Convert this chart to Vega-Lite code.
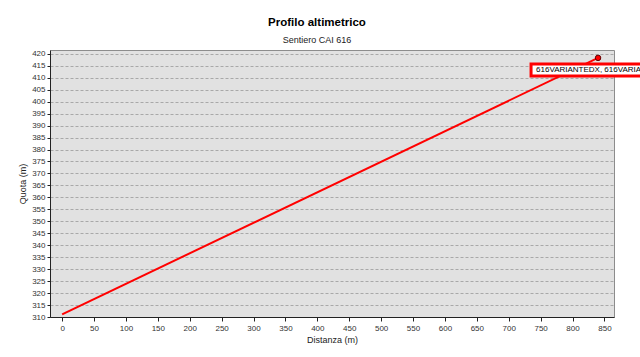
{
  "$schema": "https://vega.github.io/schema/vega-lite/v6.json",
  "autosize": "none",
  "width": 564,
  "height": 267,
  "padding": {"left": 50, "top": 50, "right": 26, "bottom": 40},
  "background": "white",
  "config": {
    "font": "Liberation Sans",
    "view": {"fill": "#e1e1e1", "stroke": "#8c8c8c", "strokeWidth": 1}
  },
  "title": {
    "text": "Profilo altimetrico",
    "subtitle": "Sentiero CAI 616",
    "anchor": "middle",
    "dx": -15,
    "fontSize": 11.5,
    "fontWeight": "bold",
    "color": "#000000",
    "subtitleFontSize": 9,
    "subtitleColor": "#222222",
    "subtitlePadding": 7,
    "offset": 5
  },
  "encoding": {
    "x": {
      "field": "distanza", "type": "quantitative",
      "scale": {"domain": [-19, 865], "nice": false, "zero": false},
      "axis": {
        "title": "Distanza (m)", "values": [0,50,100,150,200,250,300,350,400,450,500,550,600,650,700,750,800,850],
        "labelOverlap": false, "labelFlush": false,
        "grid": false, "domainColor": "#222222", "tickColor": "#222222", "tickSize": 4,
        "labelFontSize": 8, "labelColor": "#333333", "labelPadding": 3,
        "titleFontSize": 9, "titleFontWeight": "normal", "titleColor": "#222222", "titlePadding": 3
      }
    },
    "y": {
      "field": "quota", "type": "quantitative",
      "scale": {"domain": [310, 421.6], "nice": false, "zero": false},
      "axis": {
        "title": "Quota (m)", "values": [310,315,320,325,330,335,340,345,350,355,360,365,370,375,380,385,390,395,400,405,410,415,420],
        "labelOverlap": false, "labelFlush": false,
        "grid": true, "gridDash": [3, 2], "gridColor": "#a8a8a8", "gridWidth": 1,
        "domainColor": "#222222", "tickColor": "#222222", "tickSize": 3,
        "labelFontSize": 8, "labelColor": "#333333", "labelPadding": 2,
        "titleFontSize": 9, "titleFontWeight": "normal", "titleColor": "#222222", "titlePadding": 4
      }
    }
  },
  "layer": [
    {
      "data": {"values": [
        {"distanza": 0, "quota": 311.1},
        {"distanza": 840, "quota": 418.3}
      ]},
      "mark": {"type": "line", "color": "#ff0000", "strokeWidth": 2, "clip": true}
    },
    {
      "data": {"values": [
        {"distanza": 840, "quota": 418.3, "label": "616VARIANTEDX, 616VARIANTESX"}
      ]},
      "layer": [
        {
          "mark": {"type": "point", "filled": true, "fill": "#ff0000", "stroke": "#600000", "strokeWidth": 1, "size": 30, "opacity": 1}
        },
        {
          "mark": {"type": "rect", "fill": "white", "stroke": "#ff0000", "strokeWidth": 3, "width": 160, "height": 12, "xOffset": 13, "yOffset": 12}
        },
        {
          "mark": {"type": "text", "align": "left", "baseline": "middle", "fontSize": 8, "color": "#000000", "dx": -62, "dy": 12},
          "encoding": {
            "text": {"field": "label"}
          }
        }
      ]
    }
  ]
}
